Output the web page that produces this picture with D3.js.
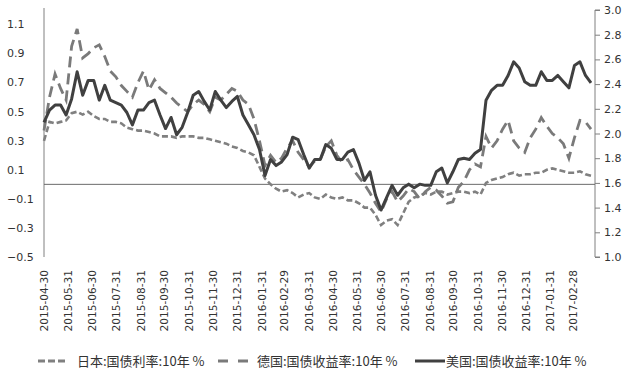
<!DOCTYPE html>
<html>
<head>
<meta charset="utf-8">
<script src="https://cdn.jsdelivr.net/npm/d3@7"></script>
<style>
  body { margin: 0; background: #fff; }
  svg { display: block; }
</style>
</head>
<body>
<div id="chart"></div>
<script>
// weekly readings, first week = 2015-04-30
const startDay = "2015-04-30";

const japan = [
  0.30, 0.43, 0.42, 0.43, 0.44, 0.49, 0.50, 0.48, 0.50, 0.47,
  0.45, 0.45, 0.43, 0.43, 0.42, 0.39, 0.38, 0.37, 0.37, 0.36,
  0.35, 0.33, 0.33, 0.33, 0.32, 0.33, 0.33, 0.33, 0.32, 0.32,
  0.31, 0.30, 0.29, 0.28, 0.26, 0.25, 0.23, 0.22, 0.20, 0.12,
  0.04, 0.00, -0.03, -0.05, -0.04, -0.06, -0.09, -0.07, -0.06, -0.09,
  -0.10, -0.07, -0.09, -0.10, -0.09, -0.11, -0.11, -0.13, -0.16, -0.16,
  -0.21, -0.28, -0.25, -0.24, -0.28, -0.20, -0.12, -0.09, -0.08, -0.06,
  -0.07, -0.05, -0.05, -0.07, -0.06, -0.05, -0.05, -0.06, -0.05, -0.07,
  0.01, 0.03, 0.04, 0.05, 0.07, 0.08, 0.06, 0.07, 0.07, 0.08,
  0.08, 0.10, 0.11, 0.10, 0.09, 0.08, 0.08, 0.09, 0.07, 0.06
];

const germany = [
  0.37, 0.60, 0.76, 0.66, 0.58, 0.95, 1.07, 0.87, 0.90, 0.94,
  0.96, 0.88, 0.78, 0.74, 0.68, 0.64, 0.60, 0.70, 0.78, 0.65,
  0.72, 0.66, 0.63, 0.60, 0.56, 0.53, 0.50, 0.55, 0.58, 0.55,
  0.50, 0.60, 0.58, 0.62, 0.66, 0.64, 0.58, 0.55, 0.45, 0.30,
  0.13, 0.20, 0.15, 0.18, 0.25, 0.30, 0.22, 0.17, 0.12, 0.16,
  0.17, 0.26, 0.30, 0.20, 0.15, 0.17, 0.10, 0.05, 0.00, -0.06,
  -0.13, -0.19, -0.10, -0.05, -0.12, -0.08, -0.03, -0.05, -0.10, -0.05,
  -0.02, -0.04, -0.08, -0.13, -0.12, -0.02, 0.02, 0.10, 0.14, 0.12,
  0.33, 0.25, 0.30, 0.38, 0.44, 0.30, 0.25, 0.22, 0.32, 0.38,
  0.46, 0.40, 0.35, 0.32, 0.28, 0.18, 0.32, 0.44, 0.43, 0.38
];

const usa = [
  2.09, 2.19, 2.23, 2.23, 2.15, 2.28, 2.50, 2.31, 2.43, 2.43,
  2.27, 2.39, 2.27, 2.25, 2.23, 2.17, 2.07, 2.19, 2.19, 2.25,
  2.27, 2.15, 2.04, 2.13, 1.99, 2.05, 2.17, 2.31, 2.34, 2.26,
  2.19, 2.34, 2.27, 2.21, 2.26, 2.30, 2.15, 2.07, 1.99, 1.87,
  1.66, 1.79, 1.74, 1.77, 1.83, 1.97, 1.95, 1.83, 1.72, 1.79,
  1.79, 1.91, 1.88, 1.79, 1.79, 1.85, 1.87, 1.76, 1.62, 1.69,
  1.50, 1.38, 1.48, 1.58, 1.50, 1.56, 1.59, 1.56, 1.59, 1.58,
  1.58, 1.69, 1.72, 1.60, 1.69, 1.79, 1.80, 1.79, 1.84, 1.87,
  2.27, 2.35, 2.39, 2.39, 2.47, 2.58, 2.53, 2.42, 2.39, 2.39,
  2.50, 2.43, 2.43, 2.47, 2.42, 2.37, 2.55, 2.58, 2.47, 2.41
];

const monthLabels = [
  "2015-04-30", "2015-05-31", "2015-06-30", "2015-07-31", "2015-08-31",
  "2015-09-30", "2015-10-31", "2015-11-30", "2015-12-31", "2016-01-31",
  "2016-02-29", "2016-03-31", "2016-04-30", "2016-05-31", "2016-06-30",
  "2016-07-31", "2016-08-31", "2016-09-30", "2016-10-31", "2016-11-30",
  "2016-12-31", "2017-01-31", "2017-02-28"
];

const leftTicks = [-0.5, -0.3, -0.1, 0.1, 0.3, 0.5, 0.7, 0.9, 1.1];
const rightTicks = [1.0, 1.2, 1.4, 1.6, 1.8, 2.0, 2.2, 2.4, 2.6, 2.8, 3.0];

const seriesNames = ["日本:国债利率:10年 %", "德国:国债收益率:10年 %", "美国:国债收益率:10年 %"];

const width = 626, height = 375;
const plotLeft = 44, plotRight = 595, plotTop = 10, plotBottom = 257;

const parse = d3.timeParse("%Y-%m-%d");
const t0 = parse(startDay);
const dates = japan.map((d, i) => d3.timeDay.offset(t0, 7 * i));

const svg = d3.select("#chart").append("svg")
  .attr("width", width)
  .attr("height", height);

const x = d3.scaleTime()
  .domain([t0, dates[dates.length - 1]])
  .range([plotLeft, 591]);

const yL = d3.scaleLinear().domain([-0.5, 1.2]).range([plotBottom, plotTop]);
const yR = d3.scaleLinear().domain([1.0, 3.0]).range([plotBottom, plotTop]);

const axisColor = "#808080";
const textColor = "#333";
const tickFont = "DejaVu Sans, Verdana, sans-serif";

// left axis line
svg.append("line")
  .attr("x1", plotLeft).attr("x2", plotLeft)
  .attr("y1", plotTop - 2).attr("y2", plotBottom)
  .attr("stroke", axisColor).attr("stroke-width", 1);

svg.append("g").selectAll("text")
  .data(leftTicks)
  .enter().append("text")
  .attr("x", 7)
  .attr("y", d => yL(d))
  .attr("dy", "0.35em")
  .attr("font-family", tickFont)
  .attr("font-size", 11)
  .attr("fill", textColor)
  .text(d => d3.format(".1f")(d));

// right axis
const rAxis = svg.append("g")
  .attr("transform", `translate(${plotRight},0)`)
  .call(d3.axisRight(yR).tickValues(rightTicks).tickFormat(d3.format(".1f")).tickSize(5).tickPadding(4));
rAxis.select(".domain").attr("stroke", axisColor).attr("d", `M5,${plotTop}H0V${plotBottom}H5`);
rAxis.selectAll(".tick line").attr("stroke", axisColor);
rAxis.selectAll(".tick text")
  .attr("font-family", tickFont)
  .attr("font-size", 11)
  .attr("fill", textColor);

// zero line
svg.append("line")
  .attr("x1", plotLeft).attr("x2", plotRight)
  .attr("y1", yL(0)).attr("y2", yL(0))
  .attr("stroke", "#6b6b6b").attr("stroke-width", 1);

// month labels
svg.append("g").selectAll("text")
  .data(monthLabels)
  .enter().append("text")
  .attr("transform", d => `translate(${x(parse(d))},270) rotate(-90)`)
  .attr("text-anchor", "end")
  .attr("dy", "0.35em")
  .attr("font-family", tickFont)
  .attr("font-size", 10.6)
  .attr("fill", textColor)
  .text(d => d);

// lines
const lineL = d3.line().x((d, i) => x(dates[i])).y(d => yL(d));
const lineR = d3.line().x((d, i) => x(dates[i])).y(d => yR(d));

const styles = [
  { color: "#808080", width: 2.6, dash: "6,3" },
  { color: "#7a7a7a", width: 2.8, dash: "11,6" },
  { color: "#404040", width: 3, dash: null }
];

svg.append("path").datum(japan)
  .attr("d", lineL)
  .attr("fill", "none")
  .attr("stroke", styles[0].color)
  .attr("stroke-width", styles[0].width)
  .attr("stroke-dasharray", styles[0].dash);

svg.append("path").datum(germany)
  .attr("d", lineL)
  .attr("fill", "none")
  .attr("stroke", styles[1].color)
  .attr("stroke-width", styles[1].width)
  .attr("stroke-dasharray", styles[1].dash);

svg.append("path").datum(usa)
  .attr("d", lineR)
  .attr("fill", "none")
  .attr("stroke", styles[2].color)
  .attr("stroke-width", styles[2].width)
  .attr("stroke-linejoin", "round");

// legend
const legendY = 361;
const legendX = [38, 218, 415];
const legend = svg.append("g").selectAll("g")
  .data(seriesNames)
  .enter().append("g")
  .attr("transform", (d, i) => `translate(${legendX[i]},${legendY})`);

legend.append("line")
  .attr("x1", 0).attr("x2", 30)
  .attr("y1", 0).attr("y2", 0)
  .attr("stroke", (d, i) => styles[i].color)
  .attr("stroke-width", 3)
  .attr("stroke-dasharray", (d, i) => i === 0 ? "7,3" : (i === 1 ? "10,10" : null));

legend.append("text")
  .attr("x", (d, i) => i === 2 ? 31 : 39)
  .attr("dy", "0.35em")
  .attr("font-family", "Noto Sans CJK SC, sans-serif")
  .attr("font-size", 13)
  .attr("fill", textColor)
  .text(d => d);
</script>
</body>
</html>
